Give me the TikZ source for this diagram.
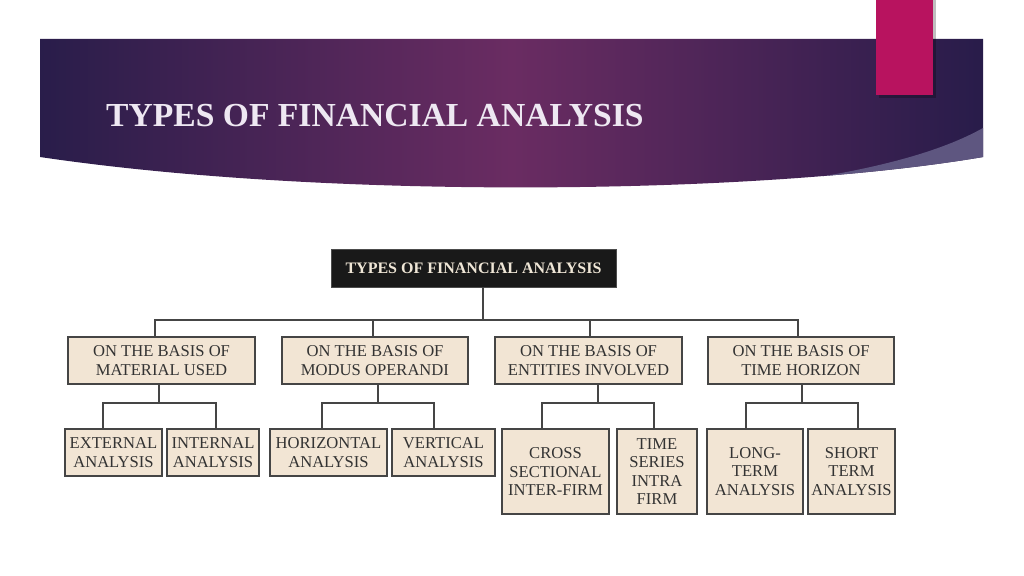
\documentclass[tikz,border=0pt]{standalone}
\usepackage{fontspec}
\setmainfont{Liberation Serif}
\definecolor{bandL}{HTML}{291D4A}
\definecolor{bandM}{HTML}{6A2C62}
\definecolor{bandR}{HTML}{281C4A}
\definecolor{swoosh}{HTML}{5E5680}
\definecolor{pinkbar}{HTML}{B8135F}
\definecolor{titlecol}{HTML}{EEE8F2}
\definecolor{boxfill}{HTML}{F2E5D4}
\definecolor{boxline}{HTML}{454545}
\definecolor{boxtext}{HTML}{333333}
\definecolor{roottext}{HTML}{EFE6D6}
\tikzset{
  lvbox/.style={draw=boxline, line width=2pt, fill=boxfill, text=boxtext, align=center,
    inner sep=0pt, font=\fontsize{16.6}{18.5}\selectfont},
  rootbox/.style={draw=gray!60!black, line width=0.8pt, fill=black!90, text=roottext,
    inner sep=0pt, font=\fontsize{16}{18}\selectfont\bfseries},
  wire/.style={draw=boxline, line width=1.8pt}
}
\begin{document}
\begin{tikzpicture}[x=1pt,y=-1pt]
\useasboundingbox (0,0) rectangle (1024,575);
\fill[white] (0,0) rectangle (1024,575);
% header band
\path[left color=bandL, right color=bandR, middle color=bandM]
  (40,39) -- (983,39) -- (983,157) .. controls (760,195) and (330,200) .. (40,157) -- cycle;
\begin{scope}
  \clip (40,39) -- (983,39) -- (983,157) .. controls (760,195) and (330,200) .. (40,157) -- cycle;
  \fill[swoosh] (983,128) .. controls (935,155) and (850,178) .. (700,192) -- (1000,210) -- (1000,128) -- cycle;
\end{scope}
% pink bar
\fill[black, opacity=0.25] (879,0) rectangle (936,98);
\fill[pinkbar] (876,0) rectangle (933,95);
% title
\node[anchor=base west, inner sep=0pt, text=titlecol, font=\fontsize{33.6}{36}\selectfont\bfseries] (title) at (106,126) {TYPES OF FINANCIAL ANALYSIS};
% root
\node[rootbox, minimum width=285, minimum height=38] (root) at (473.5,268) {TYPES OF FINANCIAL ANALYSIS};
% level 1
\node[lvbox, minimum width=187, minimum height=47] (b1) at (161.5,360.5) {ON THE BASIS OF\\MATERIAL USED};
\node[lvbox, minimum width=186, minimum height=47] (b2) at (375,360.5) {ON THE BASIS OF\\MODUS OPERANDI};
\node[lvbox, minimum width=187, minimum height=47] (b3) at (588.5,360.5) {ON THE BASIS OF\\ENTITIES INVOLVED};
\node[lvbox, minimum width=186, minimum height=47] (b4) at (801,360.5) {ON THE BASIS OF\\TIME HORIZON};
% level 2
\node[lvbox, minimum width=97, minimum height=47] (c1) at (113.5,452.5) {EXTERNAL\\ANALYSIS};
\node[lvbox, minimum width=92, minimum height=47] (c2) at (213,452.5) {INTERNAL\\ANALYSIS};
\node[lvbox, minimum width=117, minimum height=47] (c3) at (328.5,452.5) {HORIZONTAL\\ANALYSIS};
\node[lvbox, minimum width=103, minimum height=47] (c4) at (443.5,452.5) {VERTICAL\\ANALYSIS};
\node[lvbox, minimum width=107, minimum height=85] (c5) at (555.5,471.5) {CROSS\\SECTIONAL\\INTER-FIRM};
\node[lvbox, minimum width=80, minimum height=85] (c6) at (657,471.5) {TIME\\SERIES\\INTRA\\FIRM};
\node[lvbox, minimum width=96, minimum height=85] (c7) at (755,471.5) {LONG-\\TERM\\ANALYSIS};
\node[lvbox, minimum width=87, minimum height=85] (c8) at (851.5,471.5) {SHORT\\TERM\\ANALYSIS};
% buses
\coordinate (busA) at (0,320);
\coordinate (busB) at (0,403);
\draw[wire] ([xshift=9.5pt]root.south) -- ([xshift=9.5pt]root.south |- busA);
\draw[wire] ([xshift=-6.5pt]b1.north) |- ([xshift=-3pt]b4.north |- busA) -- ([xshift=-3pt]b4.north);
\draw[wire] ([xshift=-2pt]b2.north) -- ([xshift=-2pt]b2.north |- busA);
\draw[wire] ([xshift=1.5pt]b3.north) -- ([xshift=1.5pt]b3.north |- busA);
% group 1
\draw[wire] ([xshift=-2.5pt]b1.south) -- ([xshift=-2.5pt]b1.south |- busB);
\draw[wire] ([xshift=-10.5pt]c1.north) |- ([xshift=3pt]c2.north |- busB) -- ([xshift=3pt]c2.north);
% group 2
\draw[wire] ([xshift=3pt]b2.south) -- ([xshift=3pt]b2.south |- busB);
\draw[wire] ([xshift=-6.5pt]c3.north) |- ([xshift=-9.5pt]c4.north |- busB) -- ([xshift=-9.5pt]c4.north);
% group 3
\draw[wire] ([xshift=9.5pt]b3.south) -- ([xshift=9.5pt]b3.south |- busB);
\draw[wire] ([xshift=-13.5pt]c5.north) |- ([xshift=-3pt]c6.north |- busB) -- ([xshift=-3pt]c6.north);
% group 4
\draw[wire] ([xshift=1pt]b4.south) -- ([xshift=1pt]b4.south |- busB);
\draw[wire] ([xshift=-9pt]c7.north) |- ([xshift=6.5pt]c8.north |- busB) -- ([xshift=6.5pt]c8.north);
\end{tikzpicture}
\end{document}
